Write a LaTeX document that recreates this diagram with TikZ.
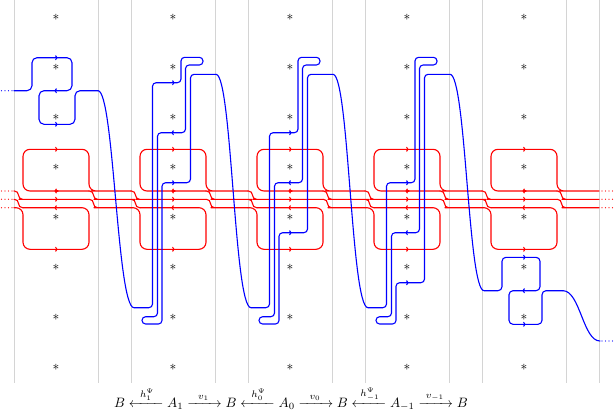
\documentclass[tikz,border=0pt]{standalone}
\usepackage{amsmath}
\usetikzlibrary{arrows.meta}
\definecolor{rd}{RGB}{255,0,0}
\definecolor{bl}{RGB}{0,0,255}
\begin{document}
\begin{tikzpicture}[x=1pt,y=-1pt,
  redln/.style={draw=rd,line width=1.1pt,line cap=round,line join=round},
  blueln/.style={draw=bl,line width=1.1pt,line cap=round,line join=round},
  gline/.style={draw=black!17,line width=0.8pt},
  tipr/.style={-{To[length=2.4pt,width=5pt]}},
  astx/.style={inner sep=0pt,scale=1.35,text=black}
]
\useasboundingbox (0,0) rectangle (615,410);
% grey column lines
\foreach \k in {0,...,5} { \draw[gline] ({14+117*\k},0) -- ({14+117*\k},383); }
\foreach \k in {0,...,4} { \draw[gline] ({98+117*\k},0) -- ({98+117*\k},383); }
% stars
\foreach \k in {0,...,4} { \foreach \j in {0,...,7} {
  \node[astx] (s\k\j) at ({56+117*\k},{17+50*\j}) {$\ast$};
}}
% red strands, entry jogs of the first column
\draw[redln, rounded corners=4.1] (14,191) -- (18.5,191) -- (18.5,199.3) -- (23,199.3) -- (89,199.3);
\draw[redln, rounded corners=4.1] (14,199.3) -- (18.5,199.3) -- (18.5,207.7) -- (23,207.7);
% red strands, one column at a time
\foreach \k in {0,...,4} {
  \pgfmathsetmacro\lx{14+117*\k}
  \pgfmathsetmacro\rx{98+117*\k}
  \pgfmathsetmacro\cx{56+117*\k}
  % upper cap and inner top strand, on to the next gap
  \draw[redln, rounded corners=7] (\rx-9,191) -- (\lx+9,191) -- (\lx+9,149.3) -- (\rx-9,149.3) -- (\rx-9,191) -- (\rx,191) -- (\rx+33,191);
  % lower cup
  \draw[redln, rounded corners=7] (\lx,207.7) -- (\lx+9,207.7) -- (\lx+9,249.3) -- (\rx-9,249.3) -- (\rx-9,207.7) -- (\lx+9,207.7);
  % exit jogs with the gap strands
  \draw[redln, rounded corners=4.1] (\rx-9,199.3) -- (\rx-4.5,199.3) -- (\rx-4.5,207.7) -- (\rx,207.7) -- (\rx+33,207.7);
  \ifnum\k<4
    \draw[redln, rounded corners=4.1] (\rx-9,191) -- (\rx-4.5,191) -- (\rx-4.5,199.3) -- (\rx,199.3) -- (\rx+33,199.3)
       -- (\rx+37.5,199.3) -- (\rx+37.5,207.7) -- (\rx+42,207.7);
    \draw[redln, rounded corners=4.1] (\rx+33,191) -- (\rx+37.5,191) -- (\rx+37.5,199.3) -- (\rx+42,199.3) -- (\rx+108,199.3);
  \else
    \draw[redln, rounded corners=4.1] (\rx-9,191) -- (\rx-4.5,191) -- (\rx-4.5,199.3) -- (\rx,199.3) -- (\rx+33,199.3);
  \fi
  \draw[redln,tipr] (\cx-2,149.3) -- (\cx+1.5,149.3);
  \draw[redln,tipr] (\cx+2,191) -- (\cx-1.5,191);
  \draw[redln,tipr] (\cx-2,199.3) -- (\cx+1.5,199.3);
  \draw[redln,tipr] (\cx+2,207.7) -- (\cx-1.5,207.7);
  \draw[redln,tipr] (\cx-2,249.3) -- (\cx+1.5,249.3);
}
% dotted ends of the red strands
\foreach \yy in {191,199.3,207.7} {
  \foreach \xx in {1.5,5,8.5,12} { \fill[rd] (\xx,\yy) circle (0.6); }
  \foreach \xx in {602,605.5,609,612.5} { \fill[rd] (\xx,\yy) circle (0.6); }
}
% blue curve: first column
\foreach \xx in {1.5,5,8.5,12} { \fill[bl] (\xx,90.7) circle (0.6); }
\draw[blueln, rounded corners=5] (14,90.7) -- (32,90.7) -- (32,57.7) -- (72,57.7) -- (72,90.7) -- (39,90.7) -- (39,124.3) -- (75,124.3) -- (75,90.7) -- (98,90.7);
\draw[blueln] (98,90.7) .. controls (114,90.7) and (117,307.7) .. (134,307.7);
\draw[blueln,tipr] (54,57.7) -- (57.5,57.7);
\draw[blueln,tipr] (58,90.7) -- (54.5,90.7);
\draw[blueln,tipr] (54,124.3) -- (57.5,124.3);
% middle columns
\foreach \k/\ra/\rb/\rc in {1/82.7/132.7/182.7, 2/132.7/182.7/232.7, 3/182.7/232.7/282.7} {
  \pgfmathsetmacro\cx{56+117*\k}
  \draw[blueln, rounded corners=3.6] (\cx-39,307.7) -- (\cx-20.5,307.7) -- (\cx-20.5,\ra) -- (\cx+8,\ra) -- (\cx+8,57.3) -- (\cx+30,57.3) -- (\cx+30,65) -- (\cx+12.5,65) -- (\cx+12.5,\rb) -- (\cx-15.5,\rb) -- (\cx-15.5,316.7) -- (\cx-31,316.7) -- (\cx-31,324) -- (\cx-11,324) -- (\cx-11,\rc) -- (\cx+17.5,\rc) -- (\cx+17.5,74.3) -- (\cx+43,74.3);
  \draw[blueln,tipr] (\cx-2,\ra) -- (\cx+1.5,\ra);
  \draw[blueln,tipr] (\cx+2,\rb) -- (\cx-1.5,\rb);
  \draw[blueln,tipr] (\cx-2,\rc) -- (\cx+1.5,\rc);
}
\draw[blueln] (216,74.3) .. controls (232,74.3) and (234,307.7) .. (251,307.7);
\draw[blueln] (333,74.3) .. controls (349,74.3) and (351,307.7) .. (368,307.7);
\draw[blueln] (450,74.3) .. controls (466,74.3) and (468,290.7) .. (484,290.7);
% last column
\draw[blueln, rounded corners=4] (484,290.7) -- (502,290.7) -- (502,257.3) -- (540,257.3) -- (540,290.7) -- (509,290.7) -- (509,324.3) -- (542,324.3) -- (542,290.7) -- (563,290.7);
\draw[blueln] (563,290.7) .. controls (580,290.7) and (583,341) .. (600,341);
\foreach \xx in {602,605.5,609,612.5} { \fill[bl] (\xx,341) circle (0.6); }
\draw[blueln,tipr] (522,257.3) -- (525.5,257.3);
\draw[blueln,tipr] (526,290.7) -- (522.5,290.7);
\draw[blueln,tipr] (522,324.3) -- (525.5,324.3);
% label
\node[anchor=base, scale=1.36, inner sep=0pt] (eq) at (291,407)
  {$B \xleftarrow[\hspace{19pt}]{h^{\Psi}_{1}} A_1 \xrightarrow[\hspace{19pt}]{v_1} B \xleftarrow[\hspace{19pt}]{h^{\Psi}_{0}} A_0 \xrightarrow[\hspace{19pt}]{v_0} B \xleftarrow[\hspace{19pt}]{h^{\Psi}_{-1}} A_{-1} \xrightarrow[\hspace{19pt}]{v_{-1}} B$};
\end{tikzpicture}
\end{document}
